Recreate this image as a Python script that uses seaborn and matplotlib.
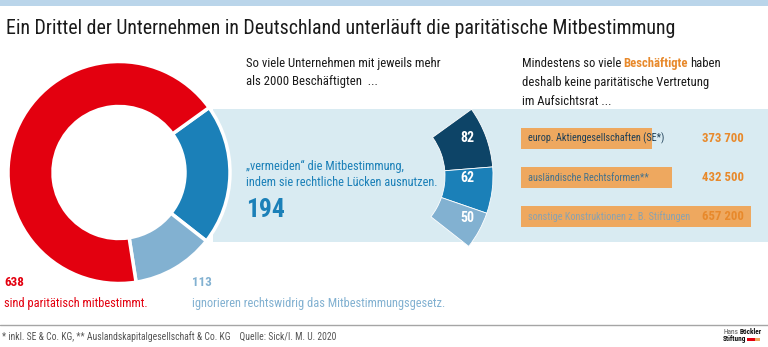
import matplotlib
matplotlib.use("Agg")
import matplotlib.pyplot as plt
from matplotlib import font_manager
from matplotlib.patches import Rectangle
import numpy as np
import pandas as pd
import seaborn as sns

# ---------------- data ----------------
donut_labels = ["vermeiden", "ignorieren", "paritätisch"]
donut_values = [194, 113, 638]
avoid_values = [82, 62, 50]
bar_categories = ["europ. Aktiengesellschaften (SE*)",
                  "ausländische Rechtsformen**",
                  "sonstige Konstruktionen z. B. Stiftungen"]
bar_values = [373700, 432500, 657200]
bar_value_labels = ["373 700", "432 500", "657 200"]

# ---------------- style ----------------
sns.set_theme(style="white")
names = {f.name for f in font_manager.fontManager.ttflist}
FONT = "DejaVu Sans"
for cand in ["Liberation Sans Narrow", "Roboto Condensed", "Open Sans Condensed", "Roboto"]:
    if cand in names:
        FONT = cand
        break
plt.rcParams["font.family"] = [FONT, "DejaVu Sans"]

RED = "#e3000f"
BLUE = "#1b80b8"
LIGHT = "#82b1d1"
NAVY = "#0d4467"
PANEL = "#d9ebf2"
ORANGE_BAR = "#eea85f"
ORANGE_TXT = "#e8892b"
TXT = "#1a1a1a"

fig = plt.figure(figsize=(7.68, 3.47), dpi=100)
ax = fig.add_axes([0, 0, 1, 1])
R = fig.canvas.get_renderer()


def fit(t, target):
    w = t.get_window_extent(R).width
    if w > 0:
        t.set_fontsize(t.get_fontsize() * target / w)
    return t.get_fontsize()


def text(x, y, s, size, color=TXT, weight="normal", ha="left", va="baseline", width=None,
         z=5, host=None):
    host = host or ax
    t = host.text(x, y, s, fontsize=size, color=color, fontweight=weight, ha=ha, va=va,
                  zorder=z, transform=ax.transData)
    if width:
        fit(t, width)
    return t


def runs(x, y, parts, size, width=None):
    ts = [ax.text(0, y, s, fontsize=size, color=c, fontweight=w, va="baseline", zorder=5)
          for s, c, w in parts]
    sp_t = ax.text(0, 0, "i i", fontsize=size)
    ii_t = ax.text(0, 0, "ii", fontsize=size)
    space = sp_t.get_window_extent(R).width - ii_t.get_window_extent(R).width
    sp_t.remove(); ii_t.remove()
    widths = [t.get_window_extent(R).width for t in ts]
    total = sum(widths) + space * (len(ts) - 1)
    k = width / total if width else 1.0
    cx = x
    for t, w in zip(ts, widths):
        t.set_fontsize(size * k)
        t.set_x(cx)
        cx += (w + space) * k
    return size * k


# top band
ax.add_patch(Rectangle((0, 0), 768, 6, color="#bad5ea", lw=0, zorder=1))
# light blue panel
ax.add_patch(Rectangle((213, 109), 555, 133, color=PANEL, lw=0, zorder=1))

# donut (y axis inverted -> angles mirrored)
ax.pie(donut_values, colors=[BLUE, LIGHT, RED], startangle=-35.8, counterclock=True,
       center=(119, 172.5), radius=111, frame=True,
       wedgeprops=dict(width=45, edgecolor="white", linewidth=2.5, zorder=3))

# exploded sector for the 194 avoiding companies
rest = sum(donut_values) - sum(avoid_values)
wedges, _ = ax.pie(avoid_values + [rest], colors=[NAVY, BLUE, LIGHT, "none"],
                   startangle=-35.8, counterclock=True, center=(379, 176), radius=114,
                   frame=True, wedgeprops=dict(width=48, edgecolor="white", linewidth=0.6, zorder=3))
wedges[-1].set_visible(False)
for v, yy in zip(avoid_values, [138, 178, 218]):
    text(467, yy, str(v), 10, color="white", weight="bold", ha="center", va="center", z=6)

ax.set_xlim(0, 768)
ax.set_ylim(347, 0)
ax.axis("off")

# horizontal bars (seaborn)
bax = fig.add_axes([521 / 768, (347 - 236) / 347, 247 / 768, 117 / 347])
bdf = pd.DataFrame({"kategorie": bar_categories, "beschaeftigte": bar_values})
sns.barplot(data=bdf, x="beschaeftigte", y="kategorie", orient="h", color=ORANGE_BAR,
            saturation=1, width=0.54, linewidth=0, edgecolor="none", ax=bax)
bax.set_xlim(0, 706000)
bax.set_ylim(2.5, -0.5)
bax.axis("off")
bax.patch.set_alpha(0)

# titles / texts
text(6, 34, "Ein Drittel der Unternehmen in Deutschland unterläuft die paritätische Mitbestimmung",
     14.5, width=669)

s1 = text(246, 67, "So viele Unternehmen mit jeweils mehr", 10, width=194).get_fontsize()
text(246, 84.5, "als 2000 Beschäftigten  ...", s1)

s2 = runs(522, 67, [("Mindestens so viele", TXT, "normal"),
                    ("Beschäftigte", ORANGE_TXT, "bold"),
                    ("haben", TXT, "normal")], 10, width=198)
text(522, 86, "deshalb keine paritätische Vertretung", s2)
text(522, 105, "im Aufsichtsrat ...", s2)

s3 = text(246, 186, "indem sie rechtliche Lücken ausnutzen.", 10, color=BLUE, width=192).get_fontsize()
text(246, 170, "„vermeiden“ die Mitbestimmung,", s3, color=BLUE)
text(246, 216.5, str(donut_values[0]), 18, color=BLUE, weight="bold", width=39)

text(4, 285.5, str(donut_values[2]), 10, color=RED, weight="bold", width=20)
text(4, 307.5, "sind paritätisch mitbestimmt.", 10, color=RED, width=142)
text(192, 285.5, str(donut_values[1]), 10, color=LIGHT, weight="bold", width=20)
text(192, 307.5, "ignorieren rechtswidrig das Mitbestimmungsgesetz.", 10, color=LIGHT, width=253)

# bar labels and values (drawn in the bar axes so they sit on top of the bars)
label_cols = ["#1e3f57", "#45728c", "#8aa2b0"]
ycent = [138.5, 177.5, 216.5]
sb = text(528, ycent[0], bar_categories[0], 8, color=label_cols[0], va="center", width=137,
          host=bax).get_fontsize()
for cat, yy, c in zip(bar_categories[1:], ycent[1:], label_cols[1:]):
    text(528, yy, cat, sb, color=c, va="center", host=bax)
sv = None
for lab, yy in zip(bar_value_labels, ycent):
    t = text(744, yy, lab, 10 if sv is None else sv, color=ORANGE_TXT, weight="bold",
             ha="right", va="center", width=42 if sv is None else None, host=bax)
    sv = t.get_fontsize()

# separator and footer
ax.plot([0, 768], [325, 325], color="#a5a5a5", lw=1, zorder=2)
text(2, 339.5, "* inkl. SE & Co. KG, ** Auslandskapitalgesellschaft & Co. KG    Quelle: Sick/I. M. U. 2020",
     7, color="#555555", width=336)

# logo
ls = runs(723, 334.5, [("Hans", "#555555", "normal"), ("Böckler", "#111111", "bold")], 5, width=39)
text(723, 341, "Stiftung", ls, color="#111111", weight="bold")
ax.add_patch(Rectangle((747, 337.5), 8, 3.5, color=RED, lw=0, zorder=5))
ax.add_patch(Rectangle((755, 337.5), 4.5, 3.5, color=ORANGE_BAR, lw=0, zorder=5))

fig.savefig("out.png", dpi=100)
